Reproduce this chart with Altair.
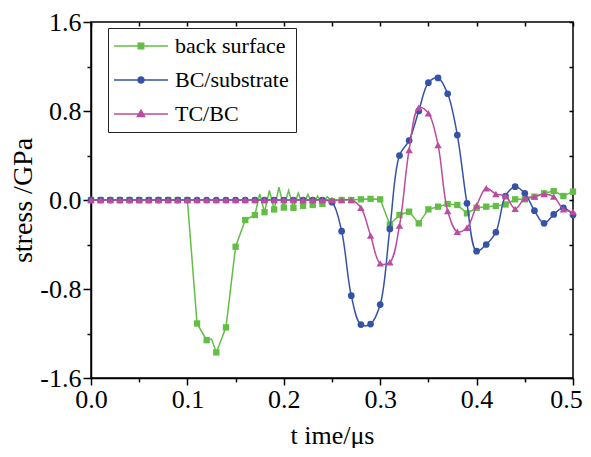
import altair as alt
import pandas as pd

# ---------------- data ----------------
t_values = [round(i * 0.01, 2) for i in range(51)]

series_names = ["back surface", "BC/substrate", "TC/BC"]
series_colors = ["#63BE45", "#3453A6", "#BC4C9F"]

back_surface = [0, 0, 0, 0, 0, 0, 0, 0, 0, 0, 0,
                -1.11, -1.26, -1.37, -1.145, -0.42, -0.18, -0.135, -0.11, -0.085,
                -0.068, -0.07, -0.052, -0.045, -0.035, -0.01, 0.0, 0.0, 0.006, 0.01,
                0.006, -0.22, -0.135, -0.105, -0.21, -0.084, -0.06, -0.036, -0.045, -0.12,
                -0.07, -0.06, -0.054, -0.04, 0.006, 0.006, 0.03, 0.06, 0.08, 0.036,
                0.075]
# extra line vertices of the back-surface curve between markers
back_extra_t = [0.125, 0.175, 0.185, 0.195, 0.205, 0.215, 0.225, 0.235, 0.245]
back_extra_v = [-1.25, 0.055, 0.085, 0.115, 0.085, 0.06, 0.05, 0.035, 0.03]

bc_substrate = [0] * 25 + [
    -0.02, -0.28, -0.86, -1.12, -1.115, -0.94, -0.26, 0.40, 0.535, 0.80,
    1.055, 1.097, 0.955, 0.584, -0.03, -0.46, -0.40, -0.29, 0.036, 0.12,
    0.06, -0.096, -0.21, -0.13, -0.07, -0.135]

tc_bc = [0] * 28 + [
    -0.07, -0.32, -0.57, -0.56, -0.23, 0.45, 0.83, 0.78, 0.494, -0.10,
    -0.285, -0.25, -0.05, 0.105, 0.054, 0.036, -0.08, 0.015, 0.03, 0.054,
    0.03, -0.084, -0.105]

x_ticks = [0, 0.05, 0.1, 0.15, 0.2, 0.25, 0.3, 0.35, 0.4, 0.45, 0.5]
y_ticks = [-1.6, -1.2, -0.8, -0.4, 0, 0.4, 0.8, 1.2, 1.6]

# ---------------- tables ----------------
green_pts = pd.DataFrame({"t": t_values, "v": back_surface})
green_line = pd.concat([green_pts, pd.DataFrame({"t": back_extra_t, "v": back_extra_v})]).sort_values("t")
blue_pts = pd.DataFrame({"t": t_values, "v": bc_substrate})
pink_pts = pd.DataFrame({"t": t_values, "v": tc_bc})
legend_df = pd.DataFrame({"series": series_names, "t": [-1.0] * 3, "v": [0.0] * 3})

FONT = "Liberation Serif"
xs = alt.Scale(domain=[0, 0.5], nice=False, zero=False)
ys = alt.Scale(domain=[-1.6, 1.6], nice=False, zero=False)

x_main = alt.X("t:Q", scale=xs, title="t ime/μs",
               axis=alt.Axis(values=x_ticks, orient="bottom",
                             labelExpr="abs(round(datum.value*100)) % 10 == 0 ? format(datum.value, '.1f') : ''",
                             tickSize={"condition": {"test": "abs(round(datum.value*100)) % 10 != 0", "value": 4}, "value": 7},
                             labelOffset={"condition": {"test": "datum.value > 0.49", "value": -7}, "value": 0},
                             labelPadding=1, titlePadding=10, labelFlush=False, labelOverlap=False))
y_main = alt.Y("v:Q", scale=ys, title="stress /GPa",
               axis=alt.Axis(values=y_ticks, orient="left",
                             labelExpr="abs(round(datum.value*10)) % 8 == 0 ? (datum.value < 0 ? '-' : '') + format(abs(datum.value), '.1f') : ''",
                             tickSize={"condition": {"test": "abs(round(datum.value*10)) % 8 != 0", "value": 4}, "value": 8},
                             labelPadding=2, titlePadding=2, titleFontSize=28,
                             labelFlush=False, labelOverlap=False))
x_none = alt.X("t:Q", scale=xs, axis=None)
y_none = alt.Y("v:Q", scale=ys, axis=None)

g_line = alt.Chart(green_line).mark_line(color=series_colors[0], strokeWidth=1.5).encode(x=x_main, y=y_main)
g_pts = alt.Chart(green_pts).mark_point(shape="square", filled=True, size=40, opacity=1,
                                        color=series_colors[0]).encode(x=x_none, y=y_none)
b_line = alt.Chart(blue_pts).mark_line(color=series_colors[1], strokeWidth=1.5,
                                       interpolate="catmull-rom").encode(x=x_none, y=y_none)
b_pts = alt.Chart(blue_pts).mark_point(shape="circle", filled=True, size=45, opacity=1,
                                       color=series_colors[1]).encode(x=x_none, y=y_none)
p_line = alt.Chart(pink_pts).mark_line(color=series_colors[2], strokeWidth=1.5,
                                       interpolate="catmull-rom").encode(x=x_none, y=y_none)
p_pts = alt.Chart(pink_pts).mark_point(shape="triangle-up", filled=True, size=55, opacity=1,
                                       color=series_colors[2]).encode(x=x_none, y=y_none)

# legend symbols: a line with the marker on it
legend_shapes = [
    "M-3,0H3M-0.3,-0.3H0.3V0.3H-0.3Z",
    "M-3,0H3M0.33,0A0.33,0.33,0,1,1,-0.33,0A0.33,0.33,0,1,1,0.33,0Z",
    "M-3,0H3M0,-0.42L0.4,0.28H-0.4Z",
]
leg = alt.Legend(title=None)
cs = alt.Scale(domain=series_names, range=series_colors)
legend_layer = alt.Chart(legend_df).mark_point(filled=True, clip=True, opacity=1, strokeWidth=1.5).encode(
    x=alt.X("t:Q", scale=xs,
            axis=alt.Axis(orient="top", values=x_ticks, labels=False, domain=False,
                          tickSize=4, offset=-4, title=None)),
    y=alt.Y("v:Q", scale=ys,
            axis=alt.Axis(orient="right", values=y_ticks, labels=False, domain=False,
                          tickSize=4, offset=-4, title=None)),
    fill=alt.Fill("series:N", scale=cs, legend=leg),
    stroke=alt.Stroke("series:N", scale=cs, legend=leg),
    shape=alt.Shape("series:N", scale=alt.Scale(domain=series_names, range=legend_shapes), legend=leg),
)

chart = alt.layer(g_line, g_pts, b_line, b_pts, p_line, p_pts, legend_layer).resolve_scale(
    x="independent", y="independent"
).properties(
    width=482, height=356,
    padding={"left": 83, "top": 14, "right": 10, "bottom": 70},
    autosize=alt.AutoSizeParams(type="none"),
).configure_view(
    stroke="black", strokeWidth=1.5
).configure_axis(
    grid=False, domainColor="black", domainWidth=1.5, tickColor="black", tickWidth=1.5,
    labelFont=FONT, labelFontSize=26, labelColor="black",
    titleFont=FONT, titleFontSize=26, titleFontWeight="normal", titleColor="black",
).configure_legend(
    orient="none", legendX=17, legendY=6,
    strokeColor="#222222", strokeWidth=1, fillColor="white",
    padding=7, rowPadding=12,
    labelFont=FONT, labelFontSize=22, labelColor="black",
    symbolSize=324, symbolStrokeWidth=1.5, symbolOffset=15, labelOffset=23,
)

chart.save("out.html", embed_options={"renderer": "svg", "actions": False})
